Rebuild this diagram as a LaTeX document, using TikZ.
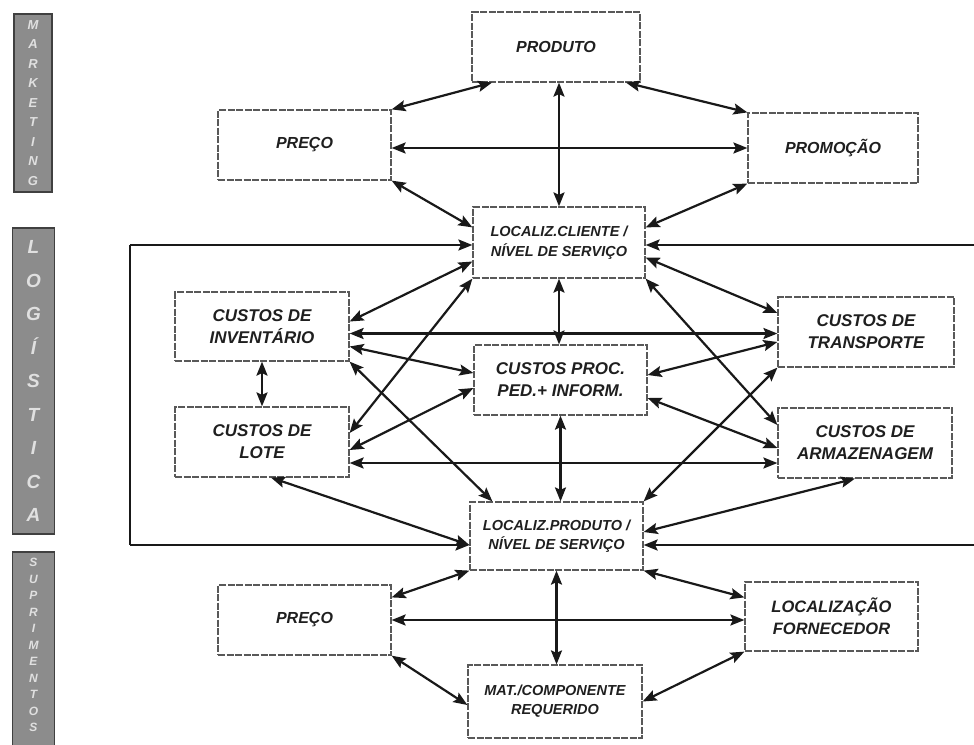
\documentclass[tikz,border=0pt]{standalone}
\usepackage{fontspec}
\setmainfont{Liberation Sans}
\usetikzlibrary{arrows.meta,calc}

\tikzset{
  box/.style={draw=black!65, line width=1.2pt, dash pattern=on 7pt off 1.5pt,
    fill=white, align=center, inner sep=0pt, text=black!88,
    font=\bfseries\itshape\fontsize{16}{22}\selectfont},
  cost/.style={box, font=\bfseries\itshape\fontsize{17}{22}\selectfont},
  loc/.style={box, font=\bfseries\itshape\fontsize{14.5}{19.5}\selectfont},
  small/.style={box, font=\bfseries\itshape\fontsize{14.5}{19}\selectfont},
  tip/.tip={Stealth[length=14pt,width=11pt,inset=2.5pt]},
  link/.style={tip-tip, line width=2.2pt, draw=black!90},
  into/.style={-tip, line width=2.2pt, draw=black!90},
  sidebar/.style={draw=black!75, line width=1.6pt, fill=black!45},
  barletters/.style={text=black!12, align=center, inner sep=0pt},
}

\begin{document}
\begin{tikzpicture}[x=1pt, y=-1pt]
\useasboundingbox (0,0) rectangle (974,744);

% department bars on the left
\draw[sidebar] (14,14) rectangle (52,192);
\node[barletters, font=\bfseries\itshape\fontsize{13}{19.5}\selectfont] (mkt) at (33,103)
  {M\\A\\R\\K\\E\\T\\I\\N\\G};
\draw[sidebar] (12.5,228) rectangle (54.5,534);
\node[barletters, font=\bfseries\itshape\fontsize{19}{33.5}\selectfont] (log) at (33.5,381)
  {L\\O\\G\\Í\\S\\T\\I\\C\\A};
\draw[sidebar] (12.5,552) rectangle (54.5,752);
\node[barletters, font=\bfseries\itshape\fontsize{12}{16.5}\selectfont] (sup) at (33.5,645)
  {S\\U\\P\\R\\I\\M\\E\\N\\T\\O\\S};

% marketing level
\node[box, minimum width=168pt, minimum height=70pt] (produto) at (556,47) {PRODUTO};
\node[box, minimum width=173pt, minimum height=70pt] (precoT) at (304.5,145) {PREÇO};
\node[box, minimum width=170pt, minimum height=70pt] (promo) at (833,148) {PROMOÇÃO};
\node[loc, minimum width=172pt, minimum height=71pt] (cliente) at (559,242.5)
  {LOCALIZ.CLIENTE /\\NÍVEL DE SERVIÇO};

% logistics costs
\node[cost, minimum width=174pt, minimum height=69pt] (inv) at (262,326.5) {CUSTOS DE\\INVENTÁRIO};
\node[cost, minimum width=174pt, minimum height=70pt] (lote) at (262,442) {CUSTOS DE\\LOTE};
\node[cost, minimum width=173pt, minimum height=70pt] (proc) at (560.5,380) {CUSTOS PROC.\\PED.+ INFORM.};
\node[cost, minimum width=176pt, minimum height=70pt] (transp) at (866,332) {CUSTOS DE\\TRANSPORTE};
\node[cost, minimum width=174pt, minimum height=70pt] (armaz) at (865,443) {CUSTOS DE\\ARMAZENAGEM};
\node[loc, minimum width=173pt, minimum height=68pt] (prodloc) at (556.5,536)
  {LOCALIZ.PRODUTO /\\NÍVEL DE SERVIÇO};

% supply level
\node[box, minimum width=173pt, minimum height=70pt] (precoB) at (304.5,620) {PREÇO};
\node[box, font=\bfseries\itshape\fontsize{16.5}{22}\selectfont,
  minimum width=173pt, minimum height=69pt] (fornec) at (831.5,616.5) {LOCALIZAÇÃO\\FORNECEDOR};
\node[small, minimum width=174pt, minimum height=73pt] (mat) at (555,701.5)
  {MAT./COMPONENTE\\REQUERIDO};

% outer frame of the logistics area
\coordinate (fTL) at (130,245);
\coordinate (fBL) at (130,545);
\coordinate (fTR) at (974,245);
\coordinate (fBR) at (974,545);
\draw[line width=2.2pt, draw=black!90] (fTL) -- (fBL);
\draw[into] (fTL) -- (fTL -| cliente.west);
\draw[into] (fTR) -- (fTR -| cliente.east);
\draw[into] (fBL) -- (fBL -| prodloc.west);
\draw[into] (fBR) -- (fBR -| prodloc.east);

% marketing links
\draw[link] (precoT.north east) -- ([xshift=-64pt]produto.south);
\draw[link] ([xshift=70pt]produto.south) -- (promo.north west);
\draw[link] ([xshift=3pt]produto.south) -- ([xshift=3pt]produto.south |- cliente.north);
\draw[link] ([yshift=-3pt]precoT.east) -- ([yshift=-3pt]precoT.east -| promo.west);
\draw[link] (precoT.south east) -- ([yshift=-21pt]cliente.north west);
\draw[link] (promo.south west) -- ([yshift=-21pt]cliente.north east);

% logistics links
\draw[link] ([yshift=-19pt]cliente.west) -- ([yshift=5pt]inv.east);
\draw[link] (cliente.south west) -- ([yshift=9pt]lote.east);
\draw[link] (cliente.south) -- (cliente.south |- proc.north);
\draw[link] ([yshift=-15pt]cliente.east) -- ([yshift=19pt]transp.west);
\draw[link] (cliente.south east) -- ([yshift=18pt]armaz.west);
\draw[link] ([yshift=-7pt]inv.east) -- ([yshift=-7pt]inv.east -| transp.west);
\draw[link] ([yshift=-20pt]inv.east) -- ([yshift=7pt]proc.west);
\draw[link] (inv.south east) -- ([xshift=23pt]prodloc.north west);
\draw[link] (inv.south) -- (lote.north);
\draw[link] ([yshift=-8pt]lote.east) -- ([yshift=-8pt]proc.west);
\draw[link] ([yshift=-21pt]lote.east) -- ([yshift=-21pt]lote.east -| armaz.west);
\draw[link] ([xshift=9pt]lote.south) -- ([yshift=-9pt]prodloc.west);
\draw[link] ([yshift=5pt]proc.east) -- ([yshift=-10pt]transp.west);
\draw[link] ([yshift=-18pt]proc.east) -- ([yshift=-5pt]armaz.west);
\draw[link] (proc.south) -- (proc.south |- prodloc.north);
\draw[link] (transp.south west) -- (prodloc.north east);
\draw[link] ([xshift=-10pt]armaz.south) -- ([yshift=4pt]prodloc.east);

% supply links
\draw[link] (prodloc.south west) -- ([yshift=-13pt]precoB.north east);
\draw[link] (prodloc.south) -- (prodloc.south |- mat.north);
\draw[link] (prodloc.south east) -- ([yshift=-16pt]fornec.north west);
\draw[link] (precoB.east) -- (precoB.east -| fornec.west);
\draw[link] (precoB.south east) -- ([yshift=-3.5pt]mat.west);
\draw[link] (fornec.south west) -- (mat.east);
\end{tikzpicture}
\end{document}
